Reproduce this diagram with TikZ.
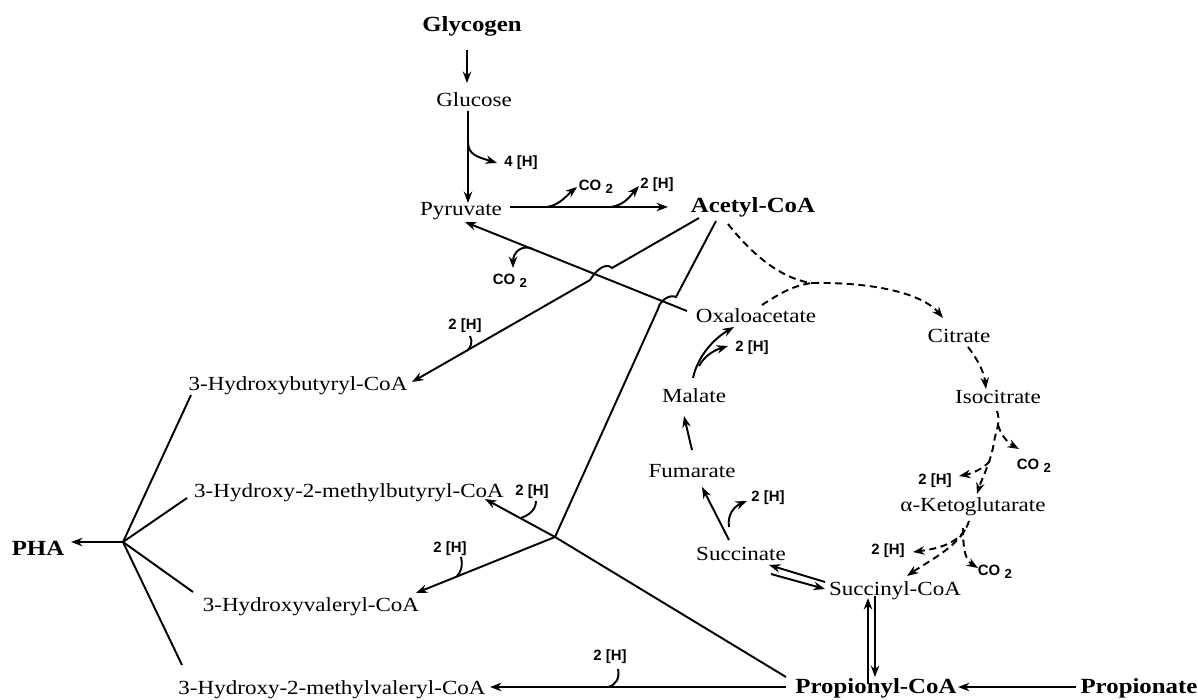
\documentclass[tikz,border=0pt]{standalone}
\usepackage{fontspec}
\setmainfont{Liberation Serif}[FakeStretch=1.15]
\newfontfamily\labfont{Liberation Sans}
\usetikzlibrary{arrows.meta}
\begin{document}
\begin{tikzpicture}[x=0.02cm,y=-0.02cm,
  met/.style={inner sep=0pt, anchor=base, font=\fontsize{11.4pt}{13pt}\selectfont},
  bmet/.style={inner sep=0pt, anchor=base, font=\fontsize{12.3pt}{14pt}\selectfont\bfseries},
  lab/.style={inner sep=0pt, font=\labfont\bfseries\fontsize{8.5pt}{10pt}\selectfont},
  arr/.style={line width=1.1pt, -{Stealth[length=6.5pt,width=4.8pt]}},
  ln/.style={line width=1.1pt},
  dsh/.style={line width=1.1pt, dash pattern=on 4pt off 2.6pt},
  darr/.style={dsh, -{Stealth[length=6.5pt,width=4.8pt]}},
]
\useasboundingbox (0,0) rectangle (1198,700);
% ---- metabolites
\node[bmet] (glycogen) at (472,31) {Glycogen};
\node[met] (glucose) at (474,106) {Glucose};
\node[met] (pyruvate) at (461,215) {Pyruvate};
\node[bmet] (acetyl) at (753,212) {Acetyl-CoA};
\node[met] (oaa) at (756,322) {Oxaloacetate};
\node[met] (citrate) at (959,342) {Citrate};
\node[met] (isocitrate) at (998,403) {Isocitrate};
\node[met] (akg) at (973,511) {α-Ketoglutarate};
\node[met] (succoa) at (895,595) {Succinyl-CoA};
\node[met] (malate) at (694,402) {Malate};
\node[met] (fumarate) at (692,477) {Fumarate};
\node[met] (succinate) at (741,560) {Succinate};
\node[bmet] (propcoa) at (876,693) {Propionyl-CoA};
\node[bmet] (propionate) at (1139,693) {Propionate};
\node[met] (hb) at (298,390) {3-Hydroxybutyryl-CoA};
\node[met] (hmb) at (349,497) {3-Hydroxy-2-methylbutyryl-CoA};
\node[met] (hv) at (311,611) {3-Hydroxyvaleryl-CoA};
\node[met] (hmv) at (332,694) {3-Hydroxy-2-methylvaleryl-CoA};
\node[bmet] (pha) at (38,555) {PHA};
% ---- small labels
\newcommand{\cotwo}{CO\hspace{2.5pt}\raisebox{-1.5pt}{\fontsize{7.5pt}{8pt}\selectfont 2}}
\node[lab] (h4) at (521,163) {4 [H]};
\node[lab] (co2a) at (596,187) {\cotwo};
\node[lab] (h2a) at (657,185) {2 [H]};
\node[lab] (co2b) at (510,281) {\cotwo};
\node[lab] (h2b) at (465,326) {2 [H]};
\node[lab] (h2c) at (752,348) {2 [H]};
\node[lab] (h2d) at (768,498) {2 [H]};
\node[lab] (h2e) at (935,481) {2 [H]};
\node[lab] (co2c) at (1034,466) {\cotwo};
\node[lab] (h2f) at (888,551) {2 [H]};
\node[lab] (co2d) at (995,572) {\cotwo};
\node[lab] (h2g) at (532,492) {2 [H]};
\node[lab] (h2h) at (450,549) {2 [H]};
\node[lab] (h2i) at (610,657) {2 [H]};
% ---- coordinates
\coordinate (J) at (555,537);
\coordinate (P) at (123,542);
% ---- glycolysis
\draw[arr] (467,50) -- (467,83);
\draw[arr] (468,111) -- (468,203);
\draw[arr] (468,142) .. controls (468,155) and (478,157) .. (497,163);
\draw[arr] (510,207) -- (668,207);
\draw[arr] (547,207) .. controls (560,205) and (567,195) .. (577,187);
\draw[arr] (611,207) .. controls (625,205) and (631,195) .. (639,186);
% ---- OAA -> pyruvate
\draw[arr] (687,311) -- (465,222);
\draw[arr] (533,249) .. controls (521,244) and (513,253) .. (513,268);
% ---- acetyl-CoA -> 3HB with hop
\draw[arr] (699,218) -- (612,268) .. controls (606,262) and (596,270) .. (590,280) -- (412,382);
\draw[ln] (470,336) .. controls (473,342) and (471,347) .. (467,351);
% ---- acetyl-CoA -> junction with hop
\draw[ln] (716,221) -- (676,297) .. controls (670,294) and (660,300) .. (658,309) -- (J);
% ---- propionyl-CoA -> junction -> 3H2MB
\draw[arr] (786,677) -- (J) -- (485,499);
\draw[ln] (536,501) .. controls (536,510) and (529,515) .. (521,518);
% ---- junction -> 3HV
\draw[arr] (J) -- (416,593);
\draw[ln] (461,557) .. controls (463,566) and (461,572) .. (457,576);
% ---- propionyl-CoA -> 3H2MV
\draw[arr] (786,687) -- (490,687);
\draw[ln] (618,669) .. controls (620,678) and (616,685) .. (608,687);
% ---- propionate
\draw[arr] (1076,687) -- (958,687);
% ---- succinyl <-> propionyl
\draw[arr] (868,684) -- (868,598);
\draw[arr] (875,596) -- (875,677);
% ---- succinate <-> succinyl
\draw[arr] (825,582) -- (769,565);
\draw[arr] (771,574) -- (825,589);
% ---- TCA reductive branch
\draw[arr] (729,540) -- (702,487);
\draw[arr] (729,527) .. controls (727,514) and (735,506) .. (747,501);
\draw[arr] (692,450) -- (684,416);
\draw[arr] (693,378) .. controls (698,355) and (715,338) .. (734,327);
\draw[arr] (699,366) .. controls (705,355) and (715,350) .. (728,346);
% ---- TCA oxidative (dashed)
\coordinate (M) at (812,283);
\draw[dsh] (728,224) .. controls (750,252) and (780,279) .. (M);
\draw[dsh] (762,305) .. controls (780,293) and (795,285) .. (M);
\draw[darr] (M) .. controls (872,282) and (922,293) .. (943,318);
\draw[darr] (968,347) .. controls (978,360) and (984,372) .. (986,389);
\draw[darr] (997,411) .. controls (1001,422) and (996,430) .. (994,442) .. controls (991,462) and (982,478) .. (977,494);
\draw[darr] (998,425) .. controls (1002,438) and (1010,444) .. (1019,449);
\draw[darr] (990,461) .. controls (982,470) and (970,474) .. (959,476);
\draw[darr] (969,521) .. controls (962,545) and (930,560) .. (907,576);
\draw[darr] (965,530) .. controls (955,545) and (935,549) .. (913,552);
\draw[darr] (963,528) .. controls (963,548) and (965,560) .. (978,568);
% ---- PHA
\draw[arr] (P) -- (71,542);
\draw[ln] (P) -- (191,395);
\draw[ln] (P) -- (187,498);
\draw[ln] (P) -- (193,592);
\draw[ln] (P) -- (182,665);
\end{tikzpicture}
\end{document}
